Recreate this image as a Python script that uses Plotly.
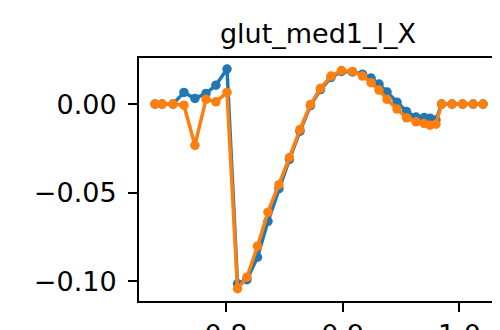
import plotly.graph_objects as go

# shared time axis
x_vals = [0.7392, 0.7452, 0.7546, 0.7640, 0.7734, 0.7829, 0.7914, 0.8009,
          0.8099, 0.8180, 0.8270, 0.8360, 0.8454, 0.8544, 0.8634, 0.8724,
          0.8810, 0.8900, 0.8990, 0.9084, 0.9170, 0.9243, 0.9311, 0.9380,
          0.9465, 0.9547, 0.9628, 0.9697, 0.9748, 0.9799, 0.9847, 0.9937,
          1.0027, 1.0117, 1.0202]

blue_vals = [0.0, 0.0, 0.0, 0.0066, 0.0032, 0.0060, 0.0107, 0.0198,
             -0.1013, -0.0990, -0.0863, -0.0661, -0.0476, -0.0311, -0.0153, -0.0008,
             0.0082, 0.0150, 0.0184, 0.0181, 0.0169, 0.0147, 0.0113, 0.0068,
             0.0011, -0.0042, -0.0073, -0.0076, -0.0079, -0.0090, 0.0, 0.0,
             0.0, 0.0, 0.0]

orange_vals = [0.0, 0.0, 0.0, -0.0006, -0.0232, 0.0027, 0.0013, 0.0066,
               -0.1041, -0.0976, -0.0801, -0.0609, -0.0454, -0.0301, -0.0143, -0.0002,
               0.0089, 0.0158, 0.0189, 0.0184, 0.0158, 0.0121, 0.0079, 0.0027,
               -0.0028, -0.0077, -0.0100, -0.0109, -0.0119, -0.0113, 0.0, 0.0,
               0.0, 0.0, 0.0]

title_text = "glut_med1_l_X"
x_tickvals = [0.8, 0.9, 1.0]
x_ticktext = ["0.8", "0.9", "1.0"]
y_tickvals = [-0.10, -0.05, 0.0]
y_ticktext = ["\u22120.10", "\u22120.05", "0.00"]

FONT = "DejaVu Sans"

fig = go.Figure()
fig.add_trace(go.Scatter(x=x_vals, y=blue_vals, mode="lines+markers",
                         line=dict(color="#1f77b4", width=3.5),
                         marker=dict(color="#1f77b4", size=9.5),
                         showlegend=False))
fig.add_trace(go.Scatter(x=x_vals, y=orange_vals, mode="lines+markers",
                         line=dict(color="#ff7f0e", width=3.5),
                         marker=dict(color="#ff7f0e", size=9.5),
                         showlegend=False))

axis_common = dict(showline=True, linecolor="black", linewidth=2, mirror=True,
                   ticks="outside", ticklen=9, tickwidth=2, tickcolor="black",
                   showgrid=False, zeroline=False, automargin=False,
                   tickfont=dict(family=FONT, size=27, color="black"))

# page body has an 8px margin: size the figure to fill the rest of the window
fig.update_layout(
    width=492, height=322,
    margin=dict(l=131, r=3, t=50, b=29, pad=0),
    paper_bgcolor="white", plot_bgcolor="white",
    title=dict(text=title_text, x=0.5, xref="paper", xanchor="center",
               y=1, yref="paper", yanchor="bottom", pad=dict(b=15),
               font=dict(family=FONT, size=27, color="black")),
)
fig.update_xaxes(range=[0.7255, 1.0322], tickvals=x_tickvals, ticktext=x_ticktext,
                 ticklabelstandoff=0, **axis_common)
fig.update_yaxes(range=[-0.111, 0.026], tickvals=y_tickvals, ticktext=y_ticktext,
                 ticklabelstandoff=6, **axis_common)

fig.write_html("out.html")
